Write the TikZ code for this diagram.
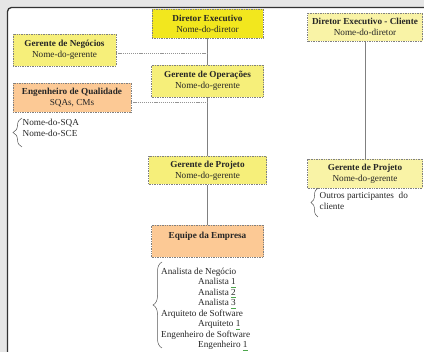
\documentclass[tikz,border=0pt]{standalone}
\usepackage{fontspec}
\setmainfont{Liberation Serif}
\usetikzlibrary{decorations.pathreplacing}
\definecolor{execyellow}{HTML}{F2E71E}
\definecolor{mgryellow}{HTML}{F6EF7A}
\definecolor{clientyellow}{HTML}{F9F3A6}
\definecolor{teamorange}{HTML}{FCC995}
\definecolor{pagegray}{HTML}{E6E6E6}
% thin green mark under a word, as a spell checker shows it
\newcommand\spellmark[1]{\setbox0\hbox{#1}\rlap{\textcolor{green!50!black!70}{\rule[-2.2pt]{\wd0}{0.45pt}}}\box0}

\begin{document}
\begin{tikzpicture}[x=1pt,y=-1pt,
  every node/.style={font=\fontsize{9.2}{11}\selectfont, text=black!85},
  orgbox/.style={draw=black!50, dash pattern=on 1pt off 0.7pt, line width=0.55pt, inner sep=0pt, align=center},
  link/.style={draw=black!50, line width=0.7pt},
  sidelink/.style={draw=black!42, line width=0.5pt, dash pattern=on 1.2pt off 0.9pt},
  memberbrace/.style={draw=black!65, line width=0.5pt, decorate, decoration={brace, amplitude=#1}},
  item/.style={anchor=base west, inner sep=0pt}]

\useasboundingbox (0,0) rectangle (424,352);
\clip (0,0) rectangle (424,352);

% page frame
\fill[pagegray] (0,0) rectangle (424,352);
\draw[fill=white, draw=black!80, line width=1.3pt, rounded corners=4pt] (7.5,370) -- (7.5,7.5) -- (440,7.5) -- (440,370) -- cycle;

% company side
\node[orgbox, fill=execyellow, minimum width=111pt, minimum height=29pt] (dexec) at (207.5,23.5)
  {\textbf{Diretor Executivo}\\Nome-do-diretor};
\node[orgbox, fill=mgryellow, minimum width=103pt, minimum height=32pt] (gneg) at (64.5,50)
  {\textbf{Gerente de Negócios}\\Nome-do-gerente};
\node[orgbox, fill=mgryellow, minimum width=112pt, minimum height=32pt] (gop) at (207.5,81)
  {\textbf{Gerente de Operações}\\Nome-do-gerente};
\node[orgbox, fill=teamorange, minimum width=118pt, minimum height=29pt] (eq) at (72,97.5)
  {\textbf{Engenheiro de Qualidade}\\SQAs, CMs};
\node[orgbox, fill=mgryellow, minimum width=118pt, minimum height=28pt] (gpl) at (207.5,170.5)
  {\textbf{Gerente de Projeto}\\Nome-do-gerente};
\node[orgbox, fill=teamorange, minimum width=112pt, minimum height=32pt] (team) at (207.5,241)
  {\textbf{Equipe da Empresa}\\\mbox{}};

% client side
\node[orgbox, fill=clientyellow, minimum width=115pt, minimum height=28pt] (cli) at (365,27)
  {\textbf{Diretor Executivo - Cliente}\\Nome-do-diretor};
\node[orgbox, fill=clientyellow, minimum width=115pt, minimum height=29pt] (gpr) at (365,173.5)
  {\textbf{Gerente de Projeto}\\Nome-do-gerente};

% reporting lines
\draw[link] (dexec.south) -- (gop.north);
\draw[link] (gop.south) -- (gpl.north);
\draw[link] (gpl.south) -- (team.north);
\draw[link] (cli.south) -- (gpr.north);

% staff links
\coordinate (negjoin) at ([yshift=-3pt]gneg.east);
\coordinate (eqjoin) at ([yshift=-4.5pt]eq.east);
\draw[sidelink] (negjoin) -- (negjoin -| dexec.south);
\draw[sidelink] (eqjoin) -- (eqjoin -| dexec.south);

% quality staff
\coordinate (sqabot) at (22,147);
\coordinate (sqatop) at (22,118);
\draw[memberbrace=9pt] (sqabot) -- (sqatop);
\node[item] (sqa) at (22.5,126) {Nome-do-SQA};
\node[item] (sce) at (22.5,136.5) {Nome-do-SCE};

% client participants
\coordinate (outbot) at (318,217);
\coordinate (outtop) at (318,188);
\draw[memberbrace=7pt] (outbot) -- (outtop);
\node[item] (out1) at (319.5,198.5) {Outros participantes\ \ do};
\node[item] (out2) at (319.5,209.5) {cliente};

% company team
\coordinate (teambot) at (162,348);
\coordinate (teamtop) at (162,262);
\draw[memberbrace=9pt] (teambot) -- (teamtop);
\foreach \n/\x/\y/\t in {
  1/161/274.5/{Analista de Negócio},
  2/198/285/{Analista \spellmark{1}},
  3/198/295.5/{Analista \spellmark{2}},
  4/198/306/{Analista \spellmark{3}},
  5/161/316.5/{Arquiteto de Software},
  6/198/327/{Arquiteto \spellmark{1}},
  7/161/337.5/{Engenheiro de Software},
  8/198/348/{Engenheiro \spellmark{1}}}
  \node[item] (member\n) at (\x,\y) {\t};
\end{tikzpicture}
\end{document}
